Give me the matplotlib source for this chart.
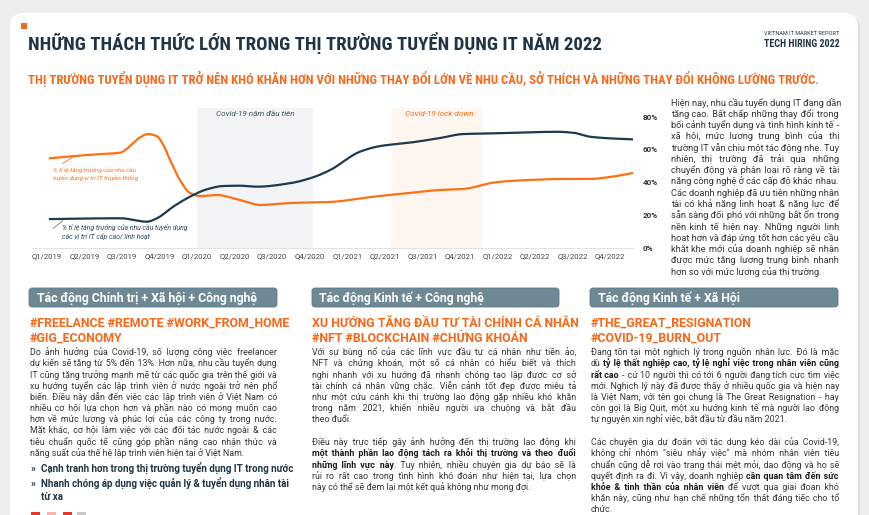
import re, os
import numpy as np
import matplotlib
matplotlib.use("Agg")
import matplotlib.pyplot as plt
from matplotlib import font_manager as fm
from matplotlib.font_manager import FontProperties
from matplotlib.patches import FancyBboxPatch, Rectangle

# ---------------- DATA ----------------
quarters = ["Q1/2019", "Q2/2019", "Q3/2019", "Q4/2019",
            "Q1/2020", "Q2/2020", "Q3/2020", "Q4/2020",
            "Q1/2021", "Q2/2021", "Q3/2021", "Q4/2021",
            "Q1/2022", "Q2/2022", "Q3/2022", "Q4/2022"]
y_ticks = [0, 20, 40, 60, 80]
y_tick_labels = ["0%", "20%", "40%", "60%", "80%"]

# % growth of hiring demand - traditional IT positions (orange)
trad_pos = [0.08, 0.75, 1.33, 1.95, 2.12, 2.29, 2.48, 2.69, 2.92, 3.10, 3.28, 3.54, 3.81,
            4.08, 4.53, 5.14, 5.68, 6.47, 7.54, 8.61, 9.67, 10.47, 11.08, 11.99, 12.87,
            13.75, 14.47, 15.0, 15.61]
trad_val = [54.6, 56.0, 57.0, 58.0, 60.2, 63.7, 67.3, 69.3, 68.1, 62.7, 53.5, 41.4, 33.5,
            31.6, 32.2, 29.2, 26.2, 27.4, 28.0, 31.0, 33.5, 35.3, 35.9, 40.1, 41.4,
            42.0, 42.0, 43.2, 45.6]
# % growth of hiring demand - senior / flexible IT positions (navy)
senior_pos = [0.08, 1.95, 2.66, 2.93, 3.36, 3.81, 4.26, 4.69, 5.14, 5.6, 6.47, 7.09,
              7.54, 8.34, 8.87, 9.67, 10.47, 11.08, 11.99, 12.87, 13.59, 14.02, 14.47,
              15.0, 15.61]
senior_val = [17.6, 18.1, 16.0, 18.1, 25.1, 31.2, 35.7, 37.7, 37.9, 37.3, 39.4, 43.0,
              47.4, 58.6, 62.0, 64.1, 66.9, 69.3, 69.8, 70.4, 70.7, 70.1, 67.7,
              66.7, 66.1]
covid_first_year = (4.0, 7.09)
covid_lockdown = (9.17, 11.59)

# ---------------- TEXT ----------------
title = "NHỮNG THÁCH THỨC LỚN TRONG THỊ TRƯỜNG TUYỂN DỤNG IT NĂM 2022"
subtitle = ("THỊ TRƯỜNG TUYỂN DỤNG IT TRỞ NÊN KHÓ KHĂN HƠN VỚI NHỮNG THAY ĐỔI LỚN VỀ NHU CẦU, "
            "SỞ THÍCH VÀ NHỮNG THAY ĐỔI KHÔNG LƯỜNG TRƯỚC.")
right_par = [
    "Hiện nay, nhu cầu tuyển dụng IT đang dần",
    "tăng cao. Bất chấp những thay đổi trong",
    "bối cảnh tuyển dụng và tình hình kinh tế -",
    "xã hội, mức lương trung bình của thị",
    "trường IT vẫn chịu một tác động nhẹ. Tuy",
    "nhiên, thị trường đã trải qua những",
    "chuyển động và phân loại rõ ràng về tài",
    "năng công nghệ ở các cấp độ khác nhau.",
    "Các doanh nghiệp đã ưu tiên những nhân",
    "tài có khả năng linh hoạt & năng lực để",
    "sẵn sàng đối phó với những bất ổn trong",
    "nền kinh tế hiện nay. Những người linh",
    "hoạt hơn và đáp ứng tốt hơn các yêu cầu",
    "khắt khe mới của doanh nghiệp sẽ nhận",
    "được mức tăng lương trung bình nhanh",
    "hơn so với mức lương của thị trường.",
]
col_heads = ["Tác động Chính trị + Xã hội + Công nghệ",
             "Tác động Kinh tế + Công nghệ",
             "Tác động Kinh tế + Xã Hội"]
col_tags = [["#FREELANCE #REMOTE #WORK_FROM_HOME", "#GIG_ECONOMY"],
            ["XU HƯỚNG TĂNG ĐẦU TƯ TÀI CHÍNH CÁ NHÂN", "#NFT #BLOCKCHAIN #CHỨNG KHOÁN"],
            ["#THE_GREAT_RESIGNATION", "#COVID-19_BURN_OUT"]]
col1_par = [
    "Do ảnh hưởng của Covid-19, số lượng công việc freelancer",
    "dự kiến sẽ tăng từ 5% đến 13%. Hơn nữa, nhu cầu tuyển dụng",
    "IT cũng tăng trưởng mạnh mẽ từ các quốc gia trên thế giới và",
    "xu hướng tuyển các lập trình viên ở nước ngoài trở nên phổ",
    "biến. Điều này dẫn đến việc các lập trình viên ở Việt Nam có",
    "nhiều cơ hội lựa chọn hơn và phần nào có mong muốn cao",
    "hơn về mức lương và phúc lợi của các công ty trong nước.",
    "Mặt khác, cơ hội làm việc với các đối tác nước ngoài & các",
    "tiêu chuẩn quốc tế cũng góp phần nâng cao nhận thức và",
    "năng suất của thế hệ lập trình viên hiện tại ở Việt Nam.",
]
col1_bullets = ["Cạnh tranh hơn trong thị trường tuyển dụng IT trong nước",
                "Nhanh chóng áp dụng việc quản lý & tuyển dụng nhân tài",
                "từ xa"]
col2_par1 = [
    "Với sự bùng nổ của các lĩnh vực đầu tư cá nhân như tiền ảo,",
    "NFT và chứng khoán, một số cá nhân có hiểu biết và thích",
    "nghi nhanh với xu hướng đã nhanh chóng tạo lập được cơ sở",
    "tài chính cá nhân vững chắc. Viễn cảnh tốt đẹp được miêu tả",
    "như một cứu cánh khi thị trường lao động gặp nhiều khó khăn",
    "trong năm 2021, khiến nhiều người ưa chuộng và bắt đầu",
    "theo đuổi.",
]
col2_par2 = [
    "Điều này trực tiếp gây ảnh hưởng đến thị trường lao động khi",
    "**một thành phần lao động tách ra khỏi thị trường và theo đuổi**",
    "**những lĩnh vực này**. Tuy nhiên, nhiều chuyên gia dự báo sẽ là",
    "rủi ro rất cao trong tình hình khó đoán như hiện tại, lựa chọn",
    "này có thể sẽ đem lại một kết quả không như mong đợi.",
]
col3_par1 = [
    "Đang tồn tại một nghịch lý trong nguồn nhân lực. Đó là mặc",
    "dù **tỷ lệ thất nghiệp cao, tỷ lệ nghỉ việc trong nhân viên cũng**",
    "**rất cao** - cứ 10 người thì có tới 6 người đang tích cực tìm việc",
    "mới. Nghịch lý này đã được thấy ở nhiều quốc gia và hiện nay",
    "là Việt Nam, với tên gọi chung là The Great Resignation  - hay",
    "còn gọi là Big Quit, một xu hướng kinh tế mà người lao động",
    "tự nguyện xin nghỉ việc, bắt đầu từ đầu năm 2021.",
]
col3_par2 = [
    "Các chuyên gia dự đoán với tác dụng kéo dài của Covid-19,",
    "không chỉ nhóm \"siêu nhảy việc\" mà nhóm nhân viên tiêu",
    "chuẩn cũng dễ rơi vào trạng thái mệt mỏi, dao động và họ sẽ",
    "quyết định ra đi. Vì vậy, doanh nghiệp **cần quan tâm đến sức**",
    "**khỏe & tinh thần của nhân viên** để vượt qua giai đoạn khó",
    "khăn này, cũng như hạn chế những tổn thất đáng tiếc cho tổ",
    "chức.",
]

# ---------------- STYLE ----------------
NAVY = "#1f3545"
ORANGE = "#f7681a"
LINE_OR = "#ff7010"
LINE_NV = "#1d3b4d"
BOX = "#6e8994"
BODY_C = "#363636"
BOLD_C = "#1c1c1c"
BODY = ["Roboto", "DejaVu Sans"]


def pick_condensed():
    prefs = ["robotocondensed-bold", "notosans-condensedbold", "opensans-condensedbold",
             "dejavusanscondensed-bold", "liberationsansnarrow-bold"]
    files = {}
    for f in fm.fontManager.ttflist:
        b = os.path.basename(f.fname).lower().rsplit(".", 1)[0]
        files[b] = f.fname
    for p in prefs:
        if p in files:
            return files[p]
    for b, fn in files.items():
        if ("condensed" in b or "narrow" in b) and "bold" in b and "italic" not in b:
            return fn
    return None


cond_file = pick_condensed()
FP_COND = FontProperties(fname=cond_file) if cond_file else FontProperties(family=BODY, weight="bold")

W, H = 870, 515
fig = plt.figure(figsize=(W / 100, H / 100), dpi=100)
fig.patch.set_facecolor("#eeeeee")
bg = fig.add_axes([0, 0, 1, 1])
bg.set_xlim(0, W)
bg.set_ylim(H, 0)
bg.axis("off")
R = fig.canvas.get_renderer()


def width_of(s, **kw):
    t = bg.text(0, 0, s, **kw)
    w = t.get_window_extent(renderer=R).width
    t.remove()
    return w


def fit(s, target, **kw):
    return 10.0 * target / width_of(s, fontsize=10, **kw)


def parse(line):
    """-> list of pieces (text, bold, space_before)"""
    parts = line.split("**")
    words = [[]]
    for i, p in enumerate(parts):
        b = (i % 2 == 1)
        for tok in re.split(r"(\s+)", p):
            if tok == "":
                continue
            if tok.isspace():
                if words[-1]:
                    words.append([])
            else:
                words[-1].append((tok, b))
    if not words[-1]:
        words.pop()
    pieces = []
    for wi, w in enumerate(words):
        for j, (txt, b) in enumerate(w):
            pieces.append((txt, b, j == 0 and wi > 0))
    return pieces


_metric_cache = {}


def metrics(size, bold):
    key = (round(size, 4), bold)
    if key not in _metric_cache:
        kw = dict(fontsize=size, family=BODY, fontweight="bold" if bold else "normal")
        sp = width_of("a a", **kw) - width_of("aa", **kw)
        hair_ch = "\u200a"
        hw = (width_of("a" + hair_ch * 20 + "a", **kw) - width_of("aa", **kw)) / 20
        if hw < 0.2:
            hair_ch = "\u2009"
            hw = (width_of("a" + hair_ch * 20 + "a", **kw) - width_of("aa", **kw)) / 20
        _metric_cache[key] = (sp, hair_ch, hw)
    return _metric_cache[key]


def draw_line(line, x0, x1, y, size, color, bcolor, justify):
    pieces = parse(line)
    runs = []
    for txt, b, spb in pieces:
        if runs and runs[-1]["bold"] == b:
            runs[-1]["items"].append((txt, spb))
        else:
            runs.append({"bold": b, "items": [(txt, spb)]})
    gaps = sum(1 for p in pieces if p[2])

    def build(counts):
        gi = 0
        out = []
        for r in runs:
            sp, hch, hw = metrics(size, r["bold"])
            s = ""
            lead = 0.0
            for k, (txt, spb) in enumerate(r["items"]):
                n = counts[gi] if spb else 0
                if spb:
                    gi += 1
                if k == 0:
                    if spb:
                        lead = sp + n * hw
                    s = txt
                else:
                    s += (" " + hch * n if spb else "") + txt
            out.append((s, lead, r["bold"]))
        return out

    def total_width(built):
        tot = 0
        ws = []
        for s, lead, b in built:
            w = width_of(s, fontsize=size, family=BODY, fontweight="bold" if b else "normal")
            ws.append(w)
            tot += lead + w
        return tot, ws

    counts = [0] * gaps
    built = build(counts)
    natural, ws = total_width(built)
    if justify and gaps > 0:
        hw = metrics(size, False)[2]
        n = int(round((x1 - x0 - natural) / hw))
        if n > 0:
            counts = [n * (i + 1) // gaps - n * i // gaps for i in range(gaps)]
            built = build(counts)
            _, ws = total_width(built)
    x = x0
    for (s, lead, b), w in zip(built, ws):
        x += lead
        bg.text(x, y, s, fontsize=size, family=BODY, fontweight="bold" if b else "normal",
                color=bcolor if b else color, va="baseline", ha="left", zorder=3)
        x += w


def paragraph(lines, x0, x1, y0, dy, size, color=BODY_C, bcolor=BOLD_C):
    base = size * 100 / 72 * 0.28
    for i, line in enumerate(lines):
        draw_line(line, x0, x1, y0 + i * dy + base, size, color, bcolor,
                  justify=(i < len(lines) - 1))


# ---------- card ----------
bg.add_patch(FancyBboxPatch((12, 15), 848, 560, boxstyle="round,pad=0,rounding_size=14",
                            fc="#e0e0e0", ec="none", zorder=0))
bg.add_patch(FancyBboxPatch((10, 13), 848, 560, boxstyle="round,pad=0,rounding_size=14",
                            fc="white", ec="none", zorder=0.5))

# ---------- header ----------
bg.add_patch(Rectangle((21, 23), 6, 6, fc=ORANGE, ec="none", zorder=2))
s = fit(title, 570, fontproperties=FP_COND)
bg.text(28, 50, title, fontproperties=FP_COND, fontsize=s, color=NAVY, va="baseline", zorder=3)
s = fit(subtitle, 784, fontproperties=FP_COND)
bg.text(28, 84, subtitle, fontproperties=FP_COND, fontsize=s, color=ORANGE, va="baseline", zorder=3)
s = fit("TECH HIRING 2022", 75, fontproperties=FP_COND)
bg.text(764, 47, "TECH HIRING 2022", fontproperties=FP_COND, fontsize=s, color=NAVY, va="baseline", zorder=3)
s = fit("VIETNAM IT MARKET REPORT", 75, family=BODY)
bg.text(764, 35, "VIETNAM IT MARKET REPORT", family=BODY, fontsize=s, color=NAVY, va="baseline", zorder=3)


# ---------- chart ----------
def pchip(x, y, xs):
    x = np.asarray(x, float); y = np.asarray(y, float)
    h = np.diff(x); d = np.diff(y) / h
    n = len(x); m = np.zeros(n)
    for k in range(1, n - 1):
        if d[k - 1] * d[k] > 0:
            w1 = 2 * h[k] + h[k - 1]; w2 = h[k] + 2 * h[k - 1]
            m[k] = (w1 + w2) / (w1 / d[k - 1] + w2 / d[k])
    m[0] = d[0]; m[-1] = d[-1]
    idx = np.clip(np.searchsorted(x, xs) - 1, 0, n - 2)
    t = (xs - x[idx]) / h[idx]
    h00 = 2 * t**3 - 3 * t**2 + 1; h10 = t**3 - 2 * t**2 + t
    h01 = -2 * t**3 + 3 * t**2; h11 = t**3 - t**2
    return h00 * y[idx] + h10 * h[idx] * m[idx] + h01 * y[idx + 1] + h11 * h[idx] * m[idx + 1]


QPX = 37.53
ax = fig.add_axes([32 / W, 1 - 248 / H, 601 / W, 140 / H], zorder=2)
ax.set_facecolor("none")
ax.set_xlim((32 - 47) / QPX, (633 - 47) / QPX)
ax.set_ylim(0, 140 / 1.64375)
for sname in ["top", "left", "right"]:
    ax.spines[sname].set_visible(False)
ax.spines["bottom"].set_color("#e2e2e2")
ax.spines["bottom"].set_linewidth(0.8)
ax.axvspan(*covid_first_year, color="#f2f4f6", zorder=0, lw=0)
ax.axvspan(*covid_lockdown, color="#fff6f0", zorder=0, lw=0)

xs1 = np.linspace(trad_pos[0], trad_pos[-1], 900)
xs2 = np.linspace(senior_pos[0], senior_pos[-1], 900)
ax.plot(xs1, pchip(trad_pos, trad_val, xs1), color=LINE_OR, lw=1.6, zorder=3)
ax.plot(xs2, pchip(senior_pos, senior_val, xs2), color=LINE_NV, lw=1.6, zorder=3)

xt = fit("Q1/2019", 30, family=BODY)
ax.set_xticks(range(len(quarters)))
ax.set_xticklabels(quarters, fontsize=xt, color="#454545", family=BODY)
ax.tick_params(axis="x", length=0, pad=4)
ax.yaxis.tick_right()
yt = fit("80%", 15, family=BODY, fontweight="bold")
ax.set_yticks(y_ticks)
ax.set_yticklabels(y_tick_labels, fontsize=yt, fontweight="bold", color="#333333", family=BODY)
ax.tick_params(axis="y", length=0, pad=7.2)

cs = fit("Covid-19 năm đầu tiên", 79, family=BODY, style="italic")
ax.text(sum(covid_first_year) / 2, 81.5, "Covid-19 năm đầu tiên", ha="center", va="center",
        style="italic", fontsize=cs, color="#3e5563", family=BODY)
ax.text(10.45, 81.5, "Covid-19 lock-down", ha="center", va="center",
        style="italic", fontsize=cs, color=LINE_OR, family=BODY)

a1 = "% tỉ lệ tăng trưởng của nhu cầu"
as1 = fit(a1, 83, family=BODY, style="italic")
ax.text(0.16, 45.0, a1 + "\ntuyển dụng vị trí IT truyền thống", fontsize=as1, style="italic",
        color=LINE_OR, family=BODY, va="center", linespacing=1.25)
ax.annotate("", xy=(0.75, float(pchip(trad_pos, trad_val, np.array([0.75]))[0])),
            xytext=(0.35, 50.5), arrowprops=dict(arrowstyle="-", color=LINE_OR, lw=0.6))
a2 = "% tỉ lệ tăng trưởng của nhu cầu tuyển dụng"
as2 = fit(a2, 125, family=BODY, style="italic")
ax.text(0.40, 9.8, a2 + "\ncác vị trí IT cấp cao/ linh hoạt", fontsize=as2, style="italic",
        color="#2c4a5a", family=BODY, va="center", linespacing=1.25)
ax.annotate("", xy=(0.48, float(pchip(senior_pos, senior_val, np.array([0.48]))[0])),
            xytext=(0.11, 10.9), arrowprops=dict(arrowstyle="-", color="#777777", lw=0.6))

# ---------- right paragraph ----------
rs = fit(right_par[-1], 152, family=BODY)
paragraph(right_par, 671, 839, 103, 11.27, rs)

# ---------- columns ----------
boxes = [(29, 277, 36.7), (312, 559, 319), (590, 838, 598)]
hs = fit(col_heads[0], 222, family=BODY, fontweight="bold")
for (x0, x1, tx), head in zip(boxes, col_heads):
    bg.add_patch(FancyBboxPatch((x0, 288), x1 - x0, 19, boxstyle="round,pad=0,rounding_size=3",
                                fc=BOX, ec="#5f7a86", lw=0.6, zorder=2))
    bg.text(tx, 302, head, fontsize=hs, fontweight="bold", color="white", family=BODY,
            va="baseline", zorder=3)

ts = fit(col_tags[0][0], 260, family=BODY, fontweight="bold")
for x0, tags in zip([30, 312, 591], col_tags):
    bg.text(x0, 326.7, tags[0], fontsize=ts, fontweight="bold", color=ORANGE, family=BODY,
            va="baseline", zorder=3)
    bg.text(x0, 341.7, tags[1], fontsize=ts, fontweight="bold", color=ORANGE, family=BODY,
            va="baseline", zorder=3)

bs = fit(col1_par[-1], 215, family=BODY)
DY = 11.18
paragraph(col1_par, 30, 277, 352.7, DY, bs)
paragraph(col2_par1, 312, 576, 352.7, DY, bs)
paragraph(col2_par2, 312, 576, 442.7, DY, bs)
paragraph(col3_par1, 591, 839, 352.7, DY, bs)
paragraph(col3_par2, 591, 839, 442.7, DY, bs)

ul = fit(col1_bullets[0], 254, family=BODY, fontweight="bold")
for y, txt, mark in zip([469, 484, 496.7], col1_bullets, [True, True, False]):
    if mark:
        bg.text(31, y + 3, "»", fontsize=ul, fontweight="bold", color=NAVY, family=BODY,
                va="baseline", zorder=3)
    bg.text(41, y + 3, txt, fontsize=ul, fontweight="bold", color=NAVY, family=BODY,
            va="baseline", zorder=3)

for x0, c in [(31, "#e8392b"), (47, "#f6b4ad"), (63, "#e8392b"), (77, "#c9c9c9")]:
    bg.add_patch(Rectangle((x0, 512), 9, 5, fc=c, ec="none", zorder=2))

fig.savefig("out.png", dpi=100, facecolor=fig.get_facecolor())
